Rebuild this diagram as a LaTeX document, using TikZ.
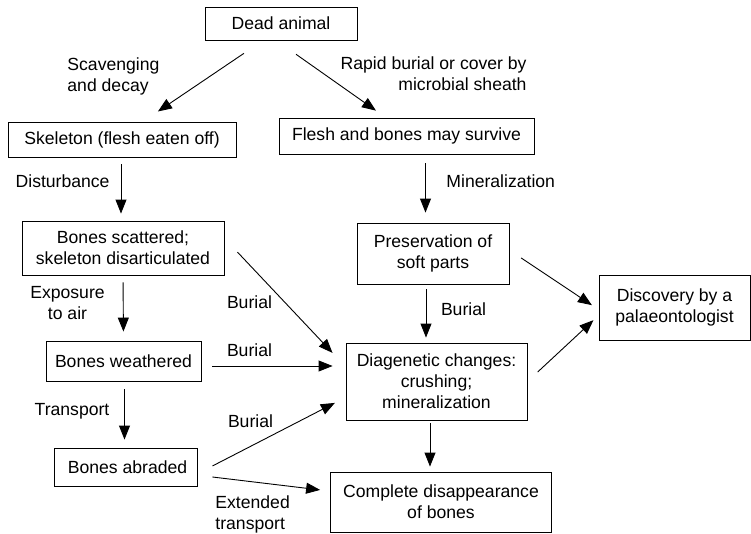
\documentclass[tikz,border=0pt]{standalone}
\usepackage{fontspec}
\setmainfont{Liberation Sans}
\usetikzlibrary{arrows.meta}

\begin{document}
\begin{tikzpicture}[x=1pt,y=-1pt,line width=0.9pt,
  font=\fontsize{17.6}{21}\selectfont,
  >={Triangle[length=14pt,width=11pt]},
  box/.style={draw,rectangle,inner sep=0pt,align=center},
  lbl/.style={inner sep=0pt,align=center}]
% Fate of a dead animal
\useasboundingbox (0,0) rectangle (751,533);
\node[box,minimum width=152pt,minimum height=33pt] (dead) at (281,23.5) {Dead animal};
\node[box,minimum width=228pt,minimum height=35pt] (skel) at (122,139.5) {Skeleton (flesh eaten off)};
\node[box,minimum width=255pt,minimum height=36pt] (flesh) at (406.5,136) {Flesh and bones may survive};
\node[box,minimum width=202pt,minimum height=54pt] (scat) at (123,248) {Bones scattered;\\skeleton disarticulated};
\node[box,minimum width=152pt,minimum height=61pt] (pres) at (433,253.5) {Preservation of\\soft parts};
\node[box,minimum width=151pt,minimum height=65pt] (disc) at (674.5,307.5) {Discovery by a\\palaeontologist};
\node[box,minimum width=155pt,minimum height=40pt] (weath) at (123.5,361) {Bones weathered};
\node[box,minimum width=181pt,minimum height=77pt] (diag) at (436.5,381.5) {Diagenetic changes:\\crushing;\\mineralization};
\node[box,minimum width=143pt,minimum height=38pt] (abr) at (125.5,467) {\hspace{4pt}Bones abraded};
\node[box,minimum width=221pt,minimum height=60pt] (comp) at (441,502) {Complete disappearance\\of bones};

\node[lbl,align=left,anchor=west] (scav) at (67,76) {Scavenging\\and decay};
\node[lbl,align=right,anchor=east] (rapid) at (527,74) {Rapid burial or cover by\\microbial sheath};
\node[lbl,anchor=east] (dist) at (110,181) {Disturbance};
\node[lbl,anchor=west] (minl) at (446,181) {Mineralization};
\node[lbl] (expo) at (67.5,303.5) {Exposure\\to air};
\node[lbl] (bur1) at (249.5,302.5) {Burial};
\node[lbl] (bur2) at (463.5,309.5) {Burial};
\node[lbl] (bur3) at (249.5,350) {Burial};
\node[lbl] (trans) at (72,411.5) {Transport};
\node[lbl] (bur4) at (250.5,421.5) {Burial};
\node[lbl,align=left,anchor=west] (ext) at (215,514) {Extended\\transport};

\draw[->,shorten <=23pt,shorten >=18pt] ([xshift=-18pt]dead.south) -- ([xshift=21pt]skel.north);
\draw[->,shorten <=24pt,shorten >=12pt] ([xshift=-4.6pt]dead.south) -- ([xshift=-20.7pt]flesh.north);
\draw[->,shorten <=7pt,shorten >=7pt] ([xshift=-1pt]skel.south) -- ([xshift=-2pt]scat.north);
\draw[->,shorten <=9pt,shorten >=10pt] ([xshift=19pt]flesh.south) -- ([xshift=-7.5pt]pres.north);
\draw[->,shorten <=7pt,shorten >=9pt] (scat.south) -- (weath.north);
\draw[->,shorten <=8pt,shorten >=8pt] ([xshift=1pt]weath.south) -- ([xshift=-1pt]abr.north);
\draw[->,shorten <=19pt,shorten >=19pt] ([yshift=9.7pt]scat.east) -- ([yshift=14.8pt]diag.west);
\draw[->,shorten <=11pt,shorten >=13pt] ([yshift=-5pt]weath.east) -- ([yshift=15.5pt]diag.west);
\draw[->,shorten <=17pt,shorten >=12pt] ([yshift=-6.7pt]abr.east) -- ([yshift=-15.9pt]diag.west);
\draw[->,shorten <=15pt,shorten >=10pt] ([yshift=-8.2pt]abr.east) -- ([yshift=10.9pt]comp.west);
\draw[->,shorten <=5pt,shorten >=5pt] ([xshift=-7pt]pres.south) -- ([xshift=-10.5pt]diag.north);
\draw[->,shorten <=14pt,shorten >=8pt] ([yshift=3.4pt]pres.east) -- ([yshift=-2.1pt]disc.west);
\draw[->,shorten <=14pt,shorten >=7pt] (diag.east) -- ([yshift=-7.9pt]disc.west);
\draw[->,shorten <=3pt,shorten >=5pt] ([xshift=-6.5pt]diag.south) -- ([xshift=-11pt]comp.north);
\end{tikzpicture}
\end{document}
